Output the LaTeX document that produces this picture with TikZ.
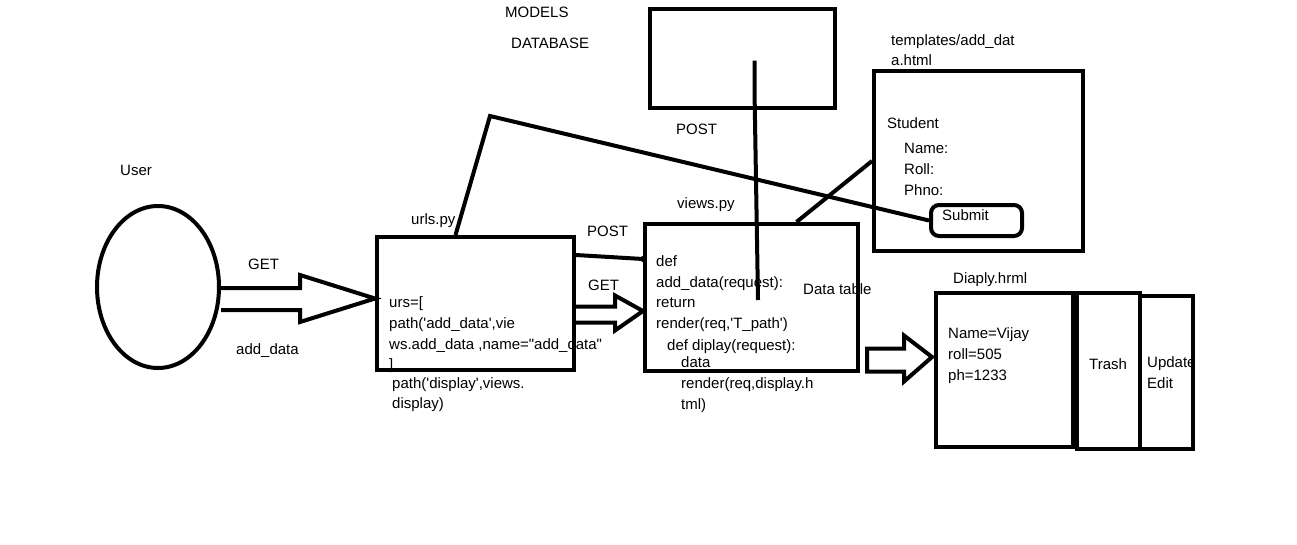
\documentclass[tikz,border=0pt]{standalone}
\usepackage{fontspec}
\setmainfont{Liberation Sans}
\usetikzlibrary{calc,shapes.geometric}
\newcommand{\sq}{\textquotesingle}
\newcommand{\dq}{\textquotedbl}

\tikzset{
  lbl/.style={anchor=base west,inner sep=0pt,font=\fontsize{15}{18}\selectfont},
  box/.style={draw,line width=4pt,inner sep=0pt},
  wire/.style={line width=4pt},
}

\begin{document}
\begin{tikzpicture}[x=1pt,y=-1pt]
\useasboundingbox[fill=white] (0,0) rectangle (1297,544);

% models / database
\node[lbl] (models) at (505,17) {MODELS};
\node[lbl] (dbname) at (511,48) {DATABASE};
\node[box,minimum width=185pt,minimum height=99pt] (db) at (742.5,58.5) {};
\node[lbl] (postdb) at (676,134) {POST};

% user
\node[lbl] (username) at (120,175) {User};
\node[draw,ellipse,line width=4pt,minimum width=122pt,minimum height=162pt] (user) at (158,287) {};
\node[lbl] (getu) at (248,269) {GET};
\node[lbl] (adddata) at (236,354) {add\_data};

% urls.py
\node[lbl] (urlsname) at (411,224) {urls.py};
\node[lbl] at (389,307) {urs=[};
\node[lbl] at (389,328) {path(\sq add\_data\sq,vie};
\node[lbl] at (389,349) {ws.add\_data ,name=\dq add\_data\dq};
\node[lbl] at (389,369) {]};
\node[lbl] at (392,388) {path(\sq display\sq,views.};
\node[lbl] at (392,408) {display)};
\node[box,minimum width=197pt,minimum height=133pt] (urls) at (475.5,303.5) {};

% views.py
\node[lbl] (postv) at (587,236) {POST};
\node[lbl] (getv) at (588,290) {GET};
\node[lbl] (viewsname) at (677,208) {views.py};
\node[lbl] at (656,266) {def};
\node[lbl] at (656,287) {add\_data(request):};
\node[lbl] at (656,307) {return};
\node[lbl] at (656,328) {render(req,\sq T\_path\sq)};
\node[lbl] at (667,350) {def diplay(request):};
\node[lbl] at (681,367) {data};
\node[lbl] at (681,388) {render(req,display.h};
\node[lbl] at (681,409) {tml)};
\node[lbl] (dtable) at (803,294) {Data table};
\node[box,minimum width=213pt,minimum height=147pt] (views) at (751.5,297.5) {};

% templates/add_data.html
\node[lbl] (tmplname) at (891,45) {templates/add\_dat};
\node[lbl] at (891,65) {a.html};
\node[lbl] at (887,128) {Student};
\node[lbl] at (904,153) {Name:};
\node[lbl] at (904,174) {Roll:};
\node[lbl] at (904,195) {Phno:};
\node[box,minimum width=209pt,minimum height=180pt] (tmpl) at (978.5,161) {};
\node[draw,line width=4pt,rounded corners=8pt,minimum width=91pt,minimum height=31pt] (submit) at (976.5,220.5) {};
\node[lbl] at (942,220) {Submit};

% Diaply.hrml
\node[lbl] (dispname) at (953,283) {Diaply.hrml};
\node[lbl] at (948,338) {Name=Vijay};
\node[lbl] at (948,359) {roll=505};
\node[lbl] at (948,380) {ph=1233};
\node[box,minimum width=137pt,minimum height=154pt] (disp) at (1004.5,370) {};
\node[lbl] at (1089,369) {Trash};
\node[box,minimum width=63pt,minimum height=156pt] (trash) at (1108.5,371) {};
\node[lbl] at (1147,367) {Update};
\node[lbl] at (1147,388) {Edit};
\node[box,minimum width=53pt,minimum height=153pt] (upd) at (1166.5,372.5) {};

% connectors
\coordinate (bend) at (490,116);
\draw[wire] ($(urls.north)+(-20,0)$) -- (bend) -- (submit.west);
\draw[wire] ($(views.north)+(45,0)$) -- (tmpl.west);
\coordinate (dbend) at (758,300);
\draw[wire] ($(db.center)+(12,2)$) -- ++(0,30) -- (dbend);
\draw[wire] ($(urls.north east)+(0,20)$) -- ($(views.north west)+(0,37)$);
\fill ($(views.north west)+(0,37)$) circle (3pt);

% block arrows
\draw[wire,line join=miter] ($(user.east)+(0,1)$) -- ++(79,0) -- ++(0,-13) -- ($(urls.west)+(0,-5)$)
  -- ($(user.east)+(79,35)$) -- ++(0,-12) -- ++(-79,0);
\draw[wire,line join=miter] ($(urls.east)+(0,3)$) -- ++(39,0) -- ++(0,-11) -- ($(views.west)+(0,13.5)$)
  -- ($(urls.east)+(39,27)$) -- ++(0,-8) -- ++(-39,0);
\draw[wire,line join=miter] ($(views.east)+(7,51)$) -- ++(37,0) -- ++(0,-13) -- ($(disp.west)+(-2,-13)$)
  -- ($(views.east)+(44,84)$) -- ++(0,-10) -- ++(-37,0) -- cycle;
\end{tikzpicture}
\end{document}
